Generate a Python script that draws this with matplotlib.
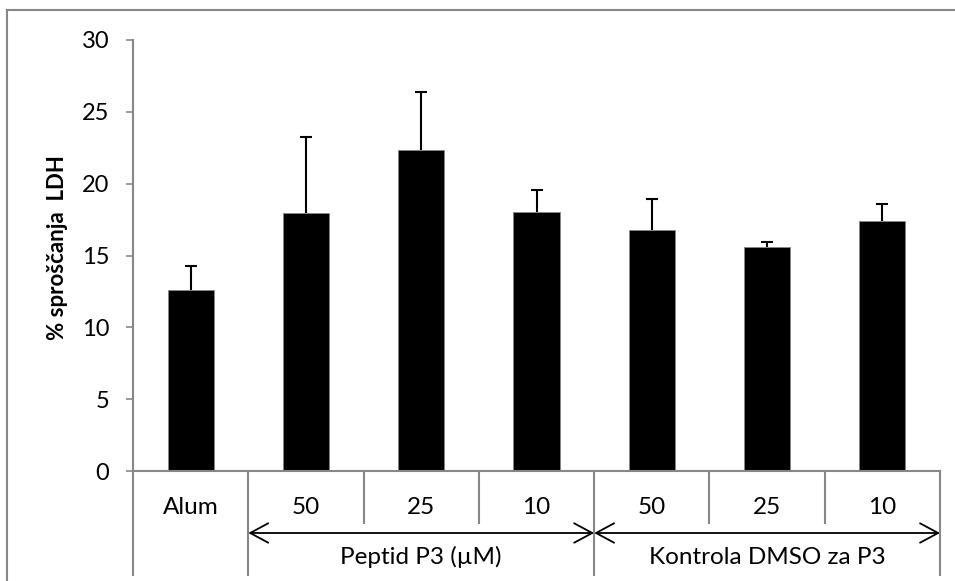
import matplotlib.pyplot as plt
from matplotlib.lines import Line2D
from matplotlib.patches import FancyArrowPatch

plt.rcParams['font.family'] = ['Lato', 'DejaVu Sans']

# LDH release per treatment
categories = ['Alum', '50', '25', '10', '50', '25', '10']
ldh_release = [12.6, 17.95, 22.35, 18.0, 16.8, 15.6, 17.4]
ldh_upper = [14.3, 23.25, 26.4, 19.55, 18.9, 15.95, 18.55]
groups = ['Peptid P3 (µM)', 'Kontrola DMSO za P3']
group_spans = [(1, 4), (4, 7)]   # boundaries in category slots

W, H = 955, 581
fig = plt.figure(figsize=(W / 100, H / 100), dpi=100)
ax_l, ax_r, ax_t, ax_b = 133, 940, 40, 471
ax = fig.add_axes([ax_l / W, 1 - ax_b / H, (ax_r - ax_l) / W, (ax_b - ax_t) / H])
ax_h = ax_b - ax_t

gray = '#878787'
x = list(range(len(categories)))
err = [u - v for u, v in zip(ldh_upper, ldh_release)]

ax.bar(x, ldh_release, width=0.4, color='black', edgecolor=gray, linewidth=0.6, zorder=2)
eb = ax.errorbar(x, ldh_release, yerr=[[0] * len(x), err], fmt='none', ecolor='black',
                 elinewidth=1.5, capsize=4.3, capthick=1.5, zorder=1)
# only the upper whisker cap is wanted
eb[1][0].remove()

ax.set_xlim(-0.5, len(categories) - 0.5)
ax.set_ylim(0, 30)
ax.set_yticks(range(0, 31, 5))
ax.set_xticks([])
for s in ['top', 'right']:
    ax.spines[s].set_visible(False)
ax.spines['left'].set_color(gray)
ax.spines['left'].set_linewidth(1.5)
ax.spines['bottom'].set_color(gray)
ax.spines['bottom'].set_linewidth(1.5)
ax.tick_params(axis='y', direction='out', length=5, width=1.2, color=gray,
               labelsize=17, pad=12)

# category table below the axis
tr = ax.get_xaxis_transform()
short_y = -52 / ax_h
long_y = -104 / ax_h
for i in range(len(categories) + 1):
    bound = i - 0.5
    bottom = long_y if i in (0, 1, 4, 7) else short_y
    ax.add_line(Line2D([bound, bound], [0, bottom], transform=tr, color=gray,
                       lw=1.5, clip_on=False))
for xi, lab in zip(x, categories):
    ax.text(xi, -36 / ax_h, lab, transform=tr, ha='center', va='center', fontsize=17.5)

arrow_y = -62 / ax_h
for (a, b), name in zip(group_spans, groups):
    arr = FancyArrowPatch((a - 0.5, arrow_y), (b - 0.5, arrow_y), transform=tr,
                          arrowstyle='<->,head_length=13,head_width=7',
                          mutation_scale=1, shrinkA=0, shrinkB=0, lw=1.3,
                          color='black', clip_on=False)
    ax.add_patch(arr)
    ax.text((a + b - 1) / 2, -86 / ax_h, name, transform=tr, ha='center', va='center',
            fontsize=17.5)

fig.text(57 / W, 1 - 248 / H, '% sproščanja  LDH', rotation=90, ha='center', va='center',
         fontsize=16, fontweight='bold')

# outer chart frame
bx, by = 7 / W, 1 - 10 / H
fig.add_artist(Line2D([bx, 1], [by, by], transform=fig.transFigure, color=gray, lw=1.5))
fig.add_artist(Line2D([bx, bx], [by, 0], transform=fig.transFigure, color=gray, lw=1.5))

fig.savefig('out.png', dpi=100)
